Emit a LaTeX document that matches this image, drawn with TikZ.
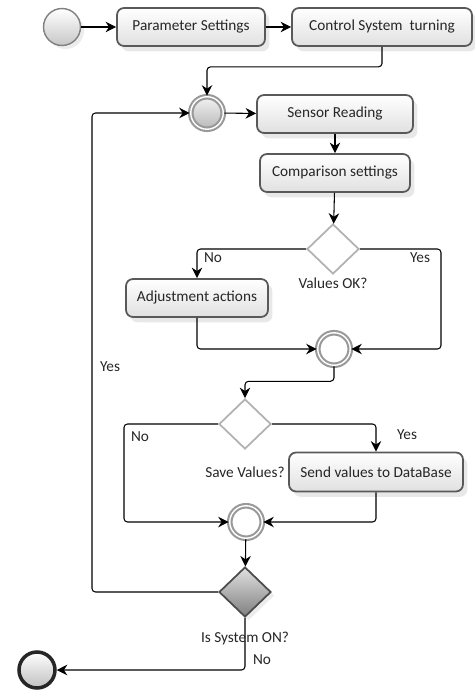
\documentclass[tikz,border=0pt]{standalone}
\usepackage{fontspec}
\setmainfont{Carlito}
\usetikzlibrary{arrows.meta,shapes.geometric,shadows}

\tikzset{
  act/.style={rectangle, rounded corners=4pt, draw=black!65, line width=1pt,
    top color=white, bottom color=black!12,
    drop shadow={opacity=0.18, shadow xshift=2.5pt, shadow yshift=-3pt},
    minimum height=0.76cm, inner sep=2pt, text=black!85,
    font=\fontsize{8.7}{10}\selectfont},
  merge/.style={circle, draw=black!40, double=white, double distance=0.8pt,
    line width=1.2pt, minimum size=0.65cm, inner sep=0pt, fill=white},
  choice/.style={diamond, draw=black!30, line width=1pt, fill=white,
    minimum width=1.04cm, minimum height=1cm, inner sep=0pt},
  flow/.style={-{Stealth[length=6pt,width=6pt]}, line width=0.6pt, rounded corners=2pt},
  lbl/.style={inner sep=1pt, text=black!85, font=\fontsize{8.7}{10}\selectfont},
}

\begin{document}
\begin{tikzpicture}[x=0.02cm, y=-0.02cm]
  \useasboundingbox (0,0) rectangle (474,692);

  % start and first actions
  \node[circle, draw=black!50, line width=0.8pt, top color=white, bottom color=black!22,
    minimum size=0.74cm, inner sep=0pt,
    drop shadow={opacity=0.15, shadow xshift=2pt, shadow yshift=-2pt}] (start) at (62,27) {};
  \node[act, minimum width=2.96cm] (params) at (191,27) {Parameter Settings};
  \node[act, minimum width=3.6cm] (ctrl) at (382,27) {Control System\ \ turning};

  % reading loop
  \node[merge, top color=black!5, bottom color=black!28] (merge1) at (207,113) {};
  \node[act, minimum width=3.12cm] (sensor) at (335,114) {Sensor Reading};
  \node[act, minimum width=3cm] (compare) at (335,173) {Comparison settings};
  \node[choice] (valok) at (333,249) {};
  \node[act, minimum width=2.84cm] (adjust) at (197,298) {Adjustment actions};
  \node[merge] (merge2) at (334,349) {};

  \node[choice] (savq) at (245,424) {};
  \node[act, minimum width=3.48cm, minimum height=0.78cm] (send) at (376,472) {Send values to DataBase};
  \node[merge] (merge3) at (246,522) {};

  \node[choice, draw=black!70, top color=black!12, bottom color=black!50,
    drop shadow={opacity=0.15, shadow xshift=2pt, shadow yshift=-2pt}] (syson) at (245,592) {};
  \node[circle, draw=black!85, line width=2pt, top color=white, bottom color=black!25,
    minimum size=0.72cm, inner sep=0pt] (stop) at (37,670) {};

  \coordinate (okyes) at (441,249);
  \coordinate (saveno) at (124,424);
  \coordinate (loopback) at (92,592);

  % connectors
  \draw[flow] (start) -- (params);
  \draw[flow] (params) -- (ctrl);
  \draw[flow] (ctrl.south) -- ++(0,20) -| (merge1.north);
  \draw[flow] (merge1) -- (sensor);
  \draw[flow] (sensor) -- (compare);
  \draw[flow] (compare) -- (valok);
  \draw[flow] (valok.west) -| (adjust.north);
  \draw[flow] (valok.east) -- (okyes) |- (merge2.east);
  \draw[flow] (adjust.south) |- (merge2.west);
  \draw[flow] (merge2.south) -- ++(0,15) -| (savq.north);
  \draw[flow] (savq.west) -- (saveno) |- (merge3.west);
  \draw[flow] (savq.east) -| (send.north);
  \draw[flow] (send.south) |- (merge3.east);
  \draw[flow] (merge3) -- (syson);
  \draw[flow] (syson.west) -- (loopback) |- (merge1.west);
  \draw[flow] (syson.south) |- (stop.east);

  % labels
  \node[lbl] (okq) at (333,283) {Values OK?};
  \node[lbl] (okno) at (213,258) {No};
  \node[lbl] (okyeslbl) at (420,258) {Yes};
  \node[lbl] (saveqlbl) at (245,472) {Save Values?};
  \node[lbl] (savenolbl) at (140,437) {No};
  \node[lbl] (saveyeslbl) at (407,435) {Yes};
  \node[lbl] (loopyes) at (110,367) {Yes};
  \node[lbl] (sysq) at (245,639) {Is System ON?};
  \node[lbl] (sysno) at (262,660) {No};
\end{tikzpicture}
\end{document}
